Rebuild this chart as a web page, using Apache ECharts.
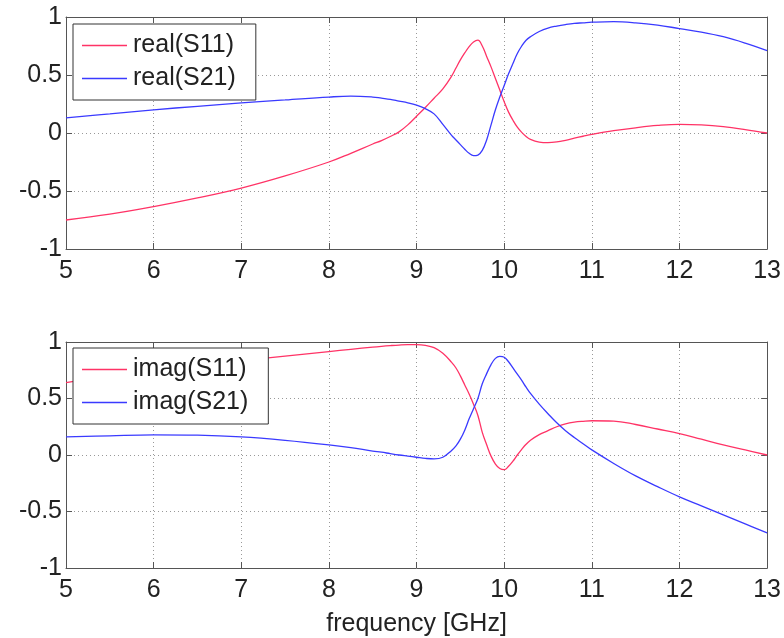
<!DOCTYPE html>
<html>
<head>
<meta charset="utf-8">
<script src="https://cdn.jsdelivr.net/npm/echarts@6/dist/echarts.min.js"></script>
<style>html,body{margin:0;padding:0;background:#fff;}#c{width:784px;height:638px;}</style>
</head>
<body>
<div id="c"></div>
<script>
const freq = [5,5.5,6,6.5,7,7.5,8,8.25,8.5,
  8.6,8.7,8.8,8.9,9,9.1,9.2,9.3,
  9.4,9.45,9.5,9.55,9.6,9.65,9.7,9.75,9.8,9.85,9.9,9.95,10,10.05,10.1,10.15,10.2,10.25,10.3,
  10.4,10.5,10.6,10.7,10.8,10.9,11,
  11.25,11.5,11.75,12,12.25,12.5,12.75,13];
const realS11 = [-0.75,-0.70,-0.635,-0.56,-0.475,-0.37,-0.25,-0.175,-0.095,
  -0.065,-0.03,0.01,0.07,0.145,0.22,0.30,0.38,
  0.49,0.56,0.63,0.69,0.745,0.785,0.80,0.75,0.66,0.57,0.47,0.37,0.27,0.18,0.11,0.05,0.005,-0.03,-0.055,
  -0.078,-0.083,-0.077,-0.063,-0.045,-0.028,-0.012,
  0.02,0.045,0.065,0.075,0.07,0.055,0.03,0.0];
const realS21 = [0.13,0.165,0.20,0.23,0.26,0.285,0.31,0.318,0.31,
  0.30,0.29,0.275,0.26,0.24,0.21,0.165,0.075,
  -0.02,-0.06,-0.10,-0.14,-0.175,-0.195,-0.19,-0.15,-0.06,0.07,0.20,0.31,0.41,0.51,0.60,0.685,0.75,0.80,0.83,
  0.875,0.905,0.922,0.935,0.945,0.95,0.955,
  0.96,0.95,0.93,0.90,0.87,0.83,0.775,0.71];
const imagS11 = [0.64,0.70,0.75,0.795,0.835,0.875,0.915,0.935,0.955,
  0.962,0.968,0.973,0.976,0.976,0.97,0.95,0.90,
  0.82,0.77,0.70,0.62,0.54,0.45,0.35,0.20,0.09,-0.01,-0.08,-0.12,-0.13,-0.10,-0.055,0.0,0.05,0.095,0.13,
  0.18,0.215,0.25,0.275,0.29,0.298,0.303,
  0.30,0.27,0.23,0.19,0.14,0.09,0.045,0.0];
const imagS21 = [0.16,0.17,0.178,0.175,0.16,0.13,0.09,0.065,0.035,
  0.025,0.012,0.0,-0.01,-0.02,-0.03,-0.035,-0.02,
  0.04,0.08,0.14,0.22,0.32,0.41,0.50,0.63,0.72,0.80,0.855,0.872,0.865,0.825,0.77,0.715,0.66,0.60,0.545,
  0.45,0.365,0.285,0.215,0.155,0.10,0.045,
  -0.075,-0.185,-0.28,-0.37,-0.45,-0.53,-0.61,-0.69];
const xTicks = [5,6,7,8,9,10,11,12,13];
const yTicks = [-1,-0.5,0,0.5,1];
const names = ['real(S11)','real(S21)','imag(S11)','imag(S21)'];
const xName = 'frequency [GHz]';

const RED = '#ff3366', BLUE = '#3a3aff';
const FONT = 'Liberation Sans';
const FS = 25;
const chart = echarts.init(document.getElementById('c'), null, {renderer:'canvas'});

const pair = a => freq.map((f,i)=>[f,a[i]]);
function xAx(grid, pos, labels, name){
  return {type:'value', gridIndex:grid, position:pos, min:xTicks[0], max:xTicks[xTicks.length-1], interval:1,
    axisLine:{show:true, onZero:false, lineStyle:{color:'#555', width:1}},
    axisTick:{show:true, inside:true, length:6, lineStyle:{color:'#555'}},
    axisLabel:{show:labels, color:'#222', fontFamily:FONT, fontSize:FS, margin:10, formatter: v=>String(v)},
    splitLine:{show:pos==='bottom', lineStyle:{type:[1,3], color:'#999', width:1}},
    name: name||'', nameLocation:'middle', nameGap:44, nameTextStyle:{color:'#222', fontFamily:FONT, fontSize:FS}};
}
function yAx(grid, pos, labels){
  return {type:'value', gridIndex:grid, position:pos, min:yTicks[0], max:yTicks[yTicks.length-1], interval:0.5,
    axisLine:{show:true, onZero:false, lineStyle:{color:'#555', width:1}},
    axisTick:{show:true, inside:true, length:6, lineStyle:{color:'#555'}},
    axisLabel:{show:labels, color:'#222', fontFamily:FONT, fontSize:FS, margin:4, formatter: v=>String(v)},
    splitLine:{show:pos==='left', lineStyle:{type:[1,3], color:'#999', width:1}}};
}
function ser(name, data, color, xi, yi){
  return {name, type:'line', xAxisIndex:xi, yAxisIndex:yi, data:pair(data), smooth:0.4, symbol:'none', showSymbol:false,
    lineStyle:{color, width:1.3}, itemStyle:{color}, animation:false, z:3};
}
function legend(data, top, padRight){
  return {orient:'vertical', left:73, top:top, data:data.map(n=>({name:n, icon:'rect'})), itemWidth:45, itemHeight:1.5, itemGap:2,
    padding:[6,padRight,6,9], borderColor:'#333', borderWidth:1, backgroundColor:'#fff',
    textStyle:{color:'#222', fontFamily:FONT, fontSize:FS, lineHeight:31, padding:[0,0,0,1]}, selectedMode:false};
}
chart.setOption({
  animation:false,
  backgroundColor:'#fff',
  grid:[{left:66, top:17, width:702, height:232}, {left:66, top:342, width:702, height:230}],
  xAxis:[xAx(0,'bottom',true), xAx(0,'top',false), xAx(1,'bottom',true,xName), xAx(1,'top',false)],
  yAxis:[yAx(0,'left',true), yAx(0,'right',false), yAx(1,'left',true), yAx(1,'right',false)],
  legend:[legend([names[0],names[1]],24,20), legend([names[2],names[3]],348,20)],
  series:[ser(names[0],realS11,RED,0,0), ser(names[1],realS21,BLUE,0,0), ser(names[2],imagS11,RED,2,2), ser(names[3],imagS21,BLUE,2,2)]
});
</script>
</body>
</html>
